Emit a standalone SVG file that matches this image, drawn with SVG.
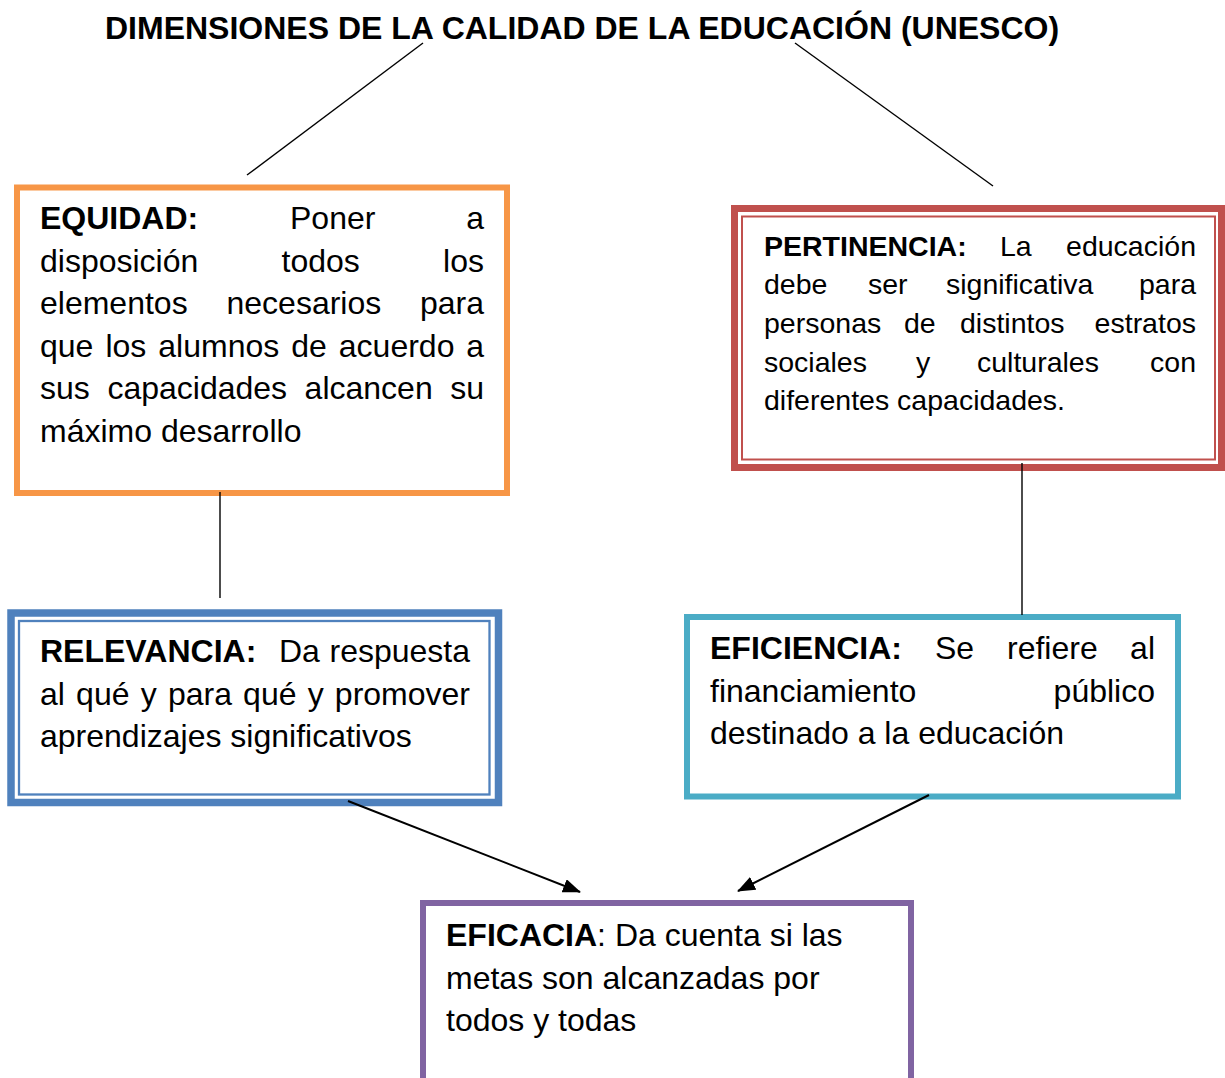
<svg xmlns="http://www.w3.org/2000/svg" width="1225" height="1078" viewBox="0 0 1225 1078">
<style>
text{font-family:"Liberation Sans",Arial,sans-serif;fill:#000}
.t{font-size:32px;font-weight:bold}
.b{font-size:32px}
.p{font-size:28.5px}
.bold{font-weight:bold}
.e{text-anchor:end}
.ln{stroke:#000;stroke-width:1.4;fill:none}
.ar{stroke:#000;stroke-width:2;fill:none;marker-end:url(#ah)}
</style>
<defs>
<marker id="ah" viewBox="0 0 18 14" refX="17" refY="7" markerWidth="18" markerHeight="14" markerUnits="userSpaceOnUse" orient="auto">
<path d="M0,0 L18,7 L0,14 z" fill="#000"/>
</marker>
</defs>
<rect width="1225" height="1078" fill="#fff"/>
<g id="title"><text class="t" x="105" y="39">DIMENSIONES DE LA CALIDAD DE LA EDUCACIÓN (UNESCO)</text></g>
<g id="equidad">
<rect x="17" y="187.5" width="490" height="305.5" fill="none" stroke="#F79646" stroke-width="6"/>
<g class="b">
<text x="40" y="229" class="bold">EQUIDAD:</text><text x="290" y="229">Poner</text><text x="484" y="229" class="e">a</text>
<text x="40" y="271.5">disposición</text><text x="281.5" y="271.5">todos</text><text x="484" y="271.5" class="e">los</text>
<text x="40" y="314">elementos</text><text x="226.5" y="314">necesarios</text><text x="484" y="314" class="e">para</text>
<text x="40" y="356.5">que</text><text x="105.4" y="356.5">los</text><text x="158.3" y="356.5">alumnos</text><text x="291.2" y="356.5">de</text><text x="338.8" y="356.5">acuerdo</text><text x="484" y="356.5" class="e">a</text>
<text x="40" y="399">sus</text><text x="107.4" y="399">capacidades</text><text x="304.6" y="399">alcancen</text><text x="484" y="399" class="e">su</text>
<text x="40" y="441.5">máximo desarrollo</text>
</g>
</g>
<g id="pertinencia">
<rect x="734.5" y="208.5" width="487" height="259" fill="none" stroke="#C0504D" stroke-width="7"/>
<rect x="742" y="216.5" width="473" height="243" fill="none" stroke="#C0504D" stroke-width="2"/>
<g class="p">
<text x="764" y="255.5" class="bold">PERTINENCIA:</text><text x="1000" y="255.5">La</text><text x="1196" y="255.5" class="e">educación</text>
<text x="764" y="294">debe</text><text x="868" y="294">ser</text><text x="946" y="294">significativa</text><text x="1196" y="294" class="e">para</text>
<text x="764" y="333">personas</text><text x="904" y="333">de</text><text x="960" y="333">distintos</text><text x="1196" y="333" class="e">estratos</text>
<text x="764" y="371.5">sociales</text><text x="916" y="371.5">y</text><text x="977" y="371.5">culturales</text><text x="1196" y="371.5" class="e">con</text>
<text x="764" y="410">diferentes capacidades.</text>
</g>
</g>
<g id="relevancia">
<rect x="11" y="613" width="487.5" height="189.5" fill="none" stroke="#4F81BD" stroke-width="7.5"/>
<rect x="19" y="621" width="470.5" height="173.5" fill="none" stroke="#4F81BD" stroke-width="2.3"/>
<g class="b">
<text x="40" y="662" class="bold">RELEVANCIA:</text><text x="279" y="662">Da</text><text x="470" y="662" class="e">respuesta</text>
<text x="40" y="704.5">al</text><text x="76.1" y="704.5">qué</text><text x="140.7" y="704.5">y</text><text x="167.9" y="704.5">para</text><text x="243.1" y="704.5">qué</text><text x="307.7" y="704.5">y</text><text x="470" y="704.5" class="e">promover</text>
<text x="40" y="747">aprendizajes significativos</text>
</g>
</g>
<g id="eficiencia">
<rect x="687" y="617" width="491" height="179.5" fill="none" stroke="#4BACC6" stroke-width="6"/>
<g class="b">
<text x="710" y="659" class="bold">EFICIENCIA:</text><text x="935" y="659">Se</text><text x="1007" y="659">refiere</text><text x="1155" y="659" class="e">al</text>
<text x="710" y="701.5">financiamiento</text><text x="1155" y="701.5" class="e">público</text>
<text x="710" y="744">destinado a la educación</text>
</g>
</g>
<g id="eficacia">
<rect x="423" y="903" width="488" height="200" fill="none" stroke="#8064A2" stroke-width="6"/>
<g class="b">
<text x="446" y="946"><tspan class="bold">EFICACIA</tspan>: Da cuenta si las</text>
<text x="446" y="988.5">metas son alcanzadas por</text>
<text x="446" y="1031">todos y todas</text>
</g>
</g>
<g id="connectors">
<line class="ln" x1="423" y1="43" x2="247" y2="175"/>
<line class="ln" x1="795" y1="43" x2="993" y2="186"/>
<line class="ln" x1="220" y1="492" x2="220" y2="598"/>
<line class="ln" x1="1022" y1="463" x2="1022" y2="615"/>
<line class="ar" x1="348" y1="801" x2="580" y2="892"/>
<line class="ar" x1="929" y1="795" x2="738" y2="891"/>
</g>
</svg>
